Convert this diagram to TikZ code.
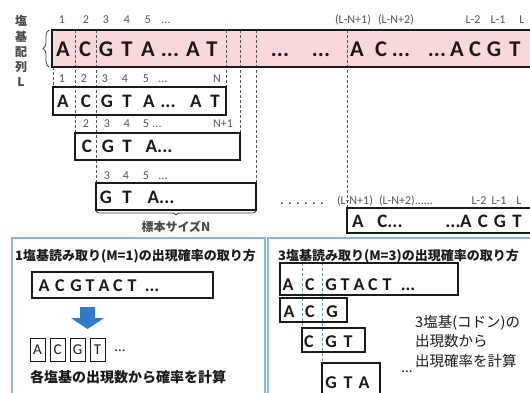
\documentclass[tikz,border=0pt]{standalone}
\usepackage{fontspec}
\setmainfont{Carlito}
\newfontfamily\jp{Noto Sans CJK JP}
\usetikzlibrary{decorations.pathreplacing}
\newcommand{\tdots}{...}
\definecolor{barpink}{HTML}{F9D8DC}
\definecolor{numgray}{HTML}{555555}
\definecolor{panelblue}{HTML}{8DB6DE}
\definecolor{arrowblue}{HTML}{2F7BC8}
\definecolor{guideblue}{HTML}{5B9BD5}
\definecolor{ink}{HTML}{1A1A1A}
\tikzset{
  big/.style={font=\fontsize{22.5}{22.5}\selectfont\bfseries, text=ink, inner sep=0pt, anchor=base},
  mid/.style={font=\fontsize{19}{19}\selectfont\bfseries, text=ink, inner sep=0pt, anchor=base},
  small/.style={font=\fontsize{18}{18}\selectfont\bfseries, text=ink, inner sep=0pt, anchor=base},
  plainletter/.style={font=\fontsize{15}{15}\selectfont, text=ink, inner sep=0pt},
  num/.style={font=\fontsize{12}{12}\selectfont, text=numgray, inner sep=0pt, anchor=base},
  jlabel/.style={font=\jp\bfseries\fontsize{12}{12}\selectfont, text=numgray!85!black, inner sep=0pt},
  jtitle/.style={font=\jp\bfseries\fontsize{13}{13}\selectfont, text=ink, inner sep=0pt, anchor=base west},
  jtext/.style={font=\jp\fontsize{14.5}{14.5}\selectfont, text=ink, inner sep=0pt, anchor=base west},
  seqbox/.style={draw=ink, line width=1.3pt},
  guide/.style={draw=ink!75, line width=0.8pt, dash pattern=on 3pt off 2pt},
  blueguide/.style={draw=guideblue, line width=0.8pt, dash pattern=on 3pt off 2pt},
  panel/.style={draw=panelblue, line width=1.4pt},
}
\begin{document}
\begin{tikzpicture}[x=1pt,y=-1pt]
\useasboundingbox (0,0) rectangle (530,393);
\begin{scope}
\clip (0,0) rectangle (530,393);

% ---- top sequence bar ----
\fill[barpink] (52,30) rectangle (540,67);
% dashed guides
\draw[guide] (75,30) -- (75,133);
\draw[guide] (96,30) -- (96,183);
\draw[guide] (53,67) -- (53,87);
\draw[guide] (226,30) -- (226,87);
\draw[guide] (240,30) -- (240,133);
\draw[guide] (256,30) -- (256,183);
\draw[guide] (347,30) -- (347,208);
\draw[ink, line width=2.2pt] (540,30) -- (52,30) -- (52,67) -- (540,67);

% vertical label
\foreach \y/\t [count=\i] in {21/塩,37/基,52/配,67/列,82/L}
  \node[jlabel, name=v\i] at (21,\y) {\t};
\draw[ink!80, line width=0.8pt, decorate, decoration={brace, amplitude=6pt}] (49,67) -- (49,30);

% top labels
\foreach \x/\t [count=\i] in {62/1,86/2,106/3,127/4,148/5,166/\tdots,353/(L-N+1),396/(L-N+2),473/L-2,498/L-1,522/L}
  \node[num, name=t\i] at (\x,24) {\t};
% bar letters
\foreach \x/\t [count=\i] in {63/A,85/C,106/G,127/T,148/A,170/\tdots,193/A,212/T,280/\tdots,321/\tdots,357/A,381/C,401/\tdots,437/\tdots,457/A,475/C,494/G,515/T}
  \node[big, name=b\i] at (\x,56.5) {\t};

% ---- row 2 ----
\draw[seqbox] (53,87) rectangle (226,115);
\foreach \x/\t [count=\i] in {62/1,84/2,105/3,125/4,146/5,163/\tdots,217/N}
  \node[num, name=r2n\i] at (\x,83) {\t};
\foreach \x/\t [count=\i] in {63/A,86/C,107/G,127/T,149/A,168/\tdots,196/A,215/T}
  \node[mid, name=r2l\i] at (\x,107.5) {\t};

% ---- row 3 ----
\draw[seqbox] (75,133) rectangle (240,160);
\foreach \x/\t [count=\i] in {86/2,107/3,127/4,146/5,157/\tdots,223/N+1}
  \node[num, name=r3n\i] at (\x,128) {\t};
\foreach \x/\t [count=\i] in {87/C,108/G,127/T,159/A\tdots}
  \node[mid, name=r3l\i] at (\x,153) {\t};

% ---- row 4 ----
\draw[seqbox] (96,183) rectangle (256,210);
\foreach \x/\t [count=\i] in {107/3,126/4,146/5,163/\tdots}
  \node[num, name=r4n\i] at (\x,179) {\t};
\foreach \x/\t [count=\i] in {106/G,127/T,161/A\tdots}
  \node[mid, name=r4l\i] at (\x,203) {\t};
\draw[ink!80, line width=0.8pt, decorate, decoration={brace, amplitude=4pt}] (256,211) -- (96,211);
\node[jlabel, name=sample] at (176,227) {標本サイズN};

% ---- row 5 ----
\draw[seqbox] (540,208) -- (347,208) -- (347,233) -- (540,233);
\foreach \x/\t [count=\i] in {302/{\bfseries\fontsize{14}{14}\selectfont . . . . . .},355/(L-N+1),406/(L-N+2)\tdots\tdots,479/L-2,499/L-1,519/L}
  \node[num, name=r5n\i] at (\x,204) {\t};
\foreach \x/\t [count=\i] in {358/A,390/C\tdots,453/\tdots,466/A,483/C,500/G,517/T}
  \node[mid, name=r5l\i] at (\x,227.5) {\t};

% ---- left panel ----
\draw[panel] (12,238) rectangle (265,400);
\node[jtitle, name=ltitle] at (15,260) {1塩基読み取り(M=1)の出現確率の取り方};
\draw[seqbox] (32,272) rectangle (213,298);
\foreach \x/\t [count=\i] in {44/A,60/C,76/G,90/T,104/A,118/C,132/T,152/\tdots}
  \node[small, name=ll\i] at (\x,291) {\t};
\fill[arrowblue] (80,307) -- (95,307) -- (95,318) -- (104,318) -- (87.5,329) -- (71,318) -- (80,318) -- cycle;
\foreach \x/\t [count=\i] in {37.5/A,57.5/C,77.5/G,97.5/T}{
  \draw[ink, line width=1pt] (\x-7.5,338) rectangle (\x+7.5,361);
  \node[plainletter, name=lb\i] at (\x,349.5) {\t};
}
\node[plainletter, name=ldots] at (120,351) {\tdots};
\node[jtitle, font=\jp\bfseries\fontsize{14}{14}\selectfont, name=lfoot] at (30,382) {各塩基の出現数から確率を計算};

% ---- right panel ----
\draw[panel] (268,238) rectangle (540,400);
\node[jtitle, name=rtitle] at (278,260) {3塩基読み取り(M=3)の出現確率の取り方};
\draw[blueguide] (302,263) -- (302,328);
\draw[blueguide] (322,263) -- (322,400);
\draw[seqbox] (280,263) rectangle (458,295);
\foreach \x/\t [count=\i] in {288/A,310/C,331/G,345/T,359/A,373/C,387/T,408/\tdots}
  \node[small, name=rl\i] at (\x,290) {\t};
\draw[seqbox] (280,298) rectangle (347,322);
\foreach \x/\t [count=\i] in {289/A,310/C,332/G}
  \node[small, name=rc\i] at (\x,317) {\t};
\draw[seqbox] (302,328) rectangle (365,352);
\foreach \x/\t [count=\i] in {309/C,331/G,348/T}
  \node[small, name=rd\i] at (\x,347) {\t};
\draw[seqbox] (322,363) rectangle (380,400);
\foreach \x/\t [count=\i] in {331/G,348/T,364/A}
  \node[small, name=re\i] at (\x,388) {\t};
\node[plainletter, name=rdots] at (407,372) {\tdots};
\node[jtext, name=rt1] at (415,327) {3塩基(コドン)の};
\node[jtext, name=rt2] at (415,346.5) {出現数から};
\node[jtext, name=rt3] at (415,366) {出現確率を計算};
\end{scope}
\end{tikzpicture}
\end{document}
